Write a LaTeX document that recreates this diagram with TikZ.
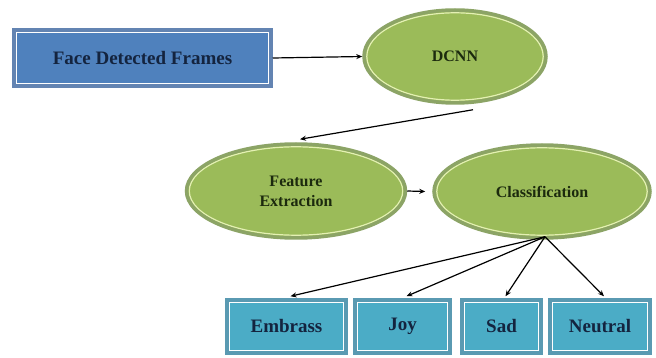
\documentclass[tikz,border=0pt]{standalone}
\usepackage{fontspec}
\setmainfont{Liberation Serif}
\definecolor{fdBlue}{HTML}{4F81BD}
\definecolor{fdBlueEdge}{HTML}{6384B2}
\definecolor{fdGreen}{HTML}{9BBB59}
\definecolor{fdGreenEdge}{HTML}{8CA466}
\definecolor{fdGreenLine}{HTML}{E4F0B4}
\definecolor{fdTeal}{HTML}{4BACC6}
\definecolor{fdTealEdge}{HTML}{5A9AB2}
\definecolor{fdInk}{HTML}{14243F}
\definecolor{fdLeaf}{HTML}{1C2A0E}
\usetikzlibrary{calc,positioning,arrows.meta,shapes.geometric}

\tikzset{
  framebox/.style={rectangle, draw=fdBlueEdge, fill=fdBlue, line width=3.5pt, inner sep=0pt,
    text=fdInk, font=\fontsize{19}{22}\selectfont\bfseries,
    path picture={\draw[white, line width=1.2pt]
      ([shift={(2.6pt,2.6pt)}]path picture bounding box.south west) rectangle
      ([shift={(-2.6pt,-2.6pt)}]path picture bounding box.north east);}},
  classbox/.style={framebox, draw=fdTealEdge, fill=fdTeal, minimum height=53},
  stage/.style={ellipse, draw=fdGreenEdge, fill=fdGreen, line width=3.5pt, inner sep=0pt,
    text=fdLeaf, align=center, font=\fontsize{16}{20}\selectfont\bfseries,
    path picture={\draw[fdGreenLine, line width=1.2pt]
      let \p1=($(path picture bounding box.north east)-(path picture bounding box.center)$) in
      (path picture bounding box.center) ellipse ({\x1-2.8pt} and {\y1-2.8pt});}},
  flow/.style={draw=black, line width=1.2pt, -{Stealth[length=6pt,width=5pt]}}
}

\begin{document}
\begin{tikzpicture}[x=1pt, y=-1pt]
  \useasboundingbox (0,0) rectangle (656,358);

  % input and network
  \node[framebox, minimum width=257, minimum height=56] (frames) at (142.5,58) {Face Detected Frames};
  \node[stage, minimum width=182, minimum height=93] (dcnn) at (455,56.5) {DCNN};

  % processing stages
  \node[stage, minimum width=219, minimum height=94] (feat) at (296,191) {Feature\\Extraction};
  \node[stage, minimum width=216, minimum height=93] (cls) at (542,191.5) {Classification};

  % emotion classes
  \node[classbox, minimum width=119] (embrass) at (286.5,326.5) {Embrass};
  \node[classbox, minimum width=95] (joy) at (402.5,326.5) {Joy};
  \node[classbox, minimum width=79] (sad) at (501.5,326.5) {Sad};
  \node[classbox, minimum width=100] (neutral) at (600,326.5) {Neutral};

  \coordinate (fan) at ([shift={(3,-3)}]cls.south);

  \draw[flow] (frames.east) -- (dcnn.west);
  \draw[flow] ([shift={(18,5)}]dcnn.south) -- ([shift={(4,-3)}]feat.north);
  \draw[flow] (feat.east) -- ([xshift=-7pt]cls.west);
  \foreach \leaf in {embrass,joy,sad,neutral}
    \draw[flow] (fan) -- ([shift={(4,-2)}]\leaf.north);
\end{tikzpicture}
\end{document}
